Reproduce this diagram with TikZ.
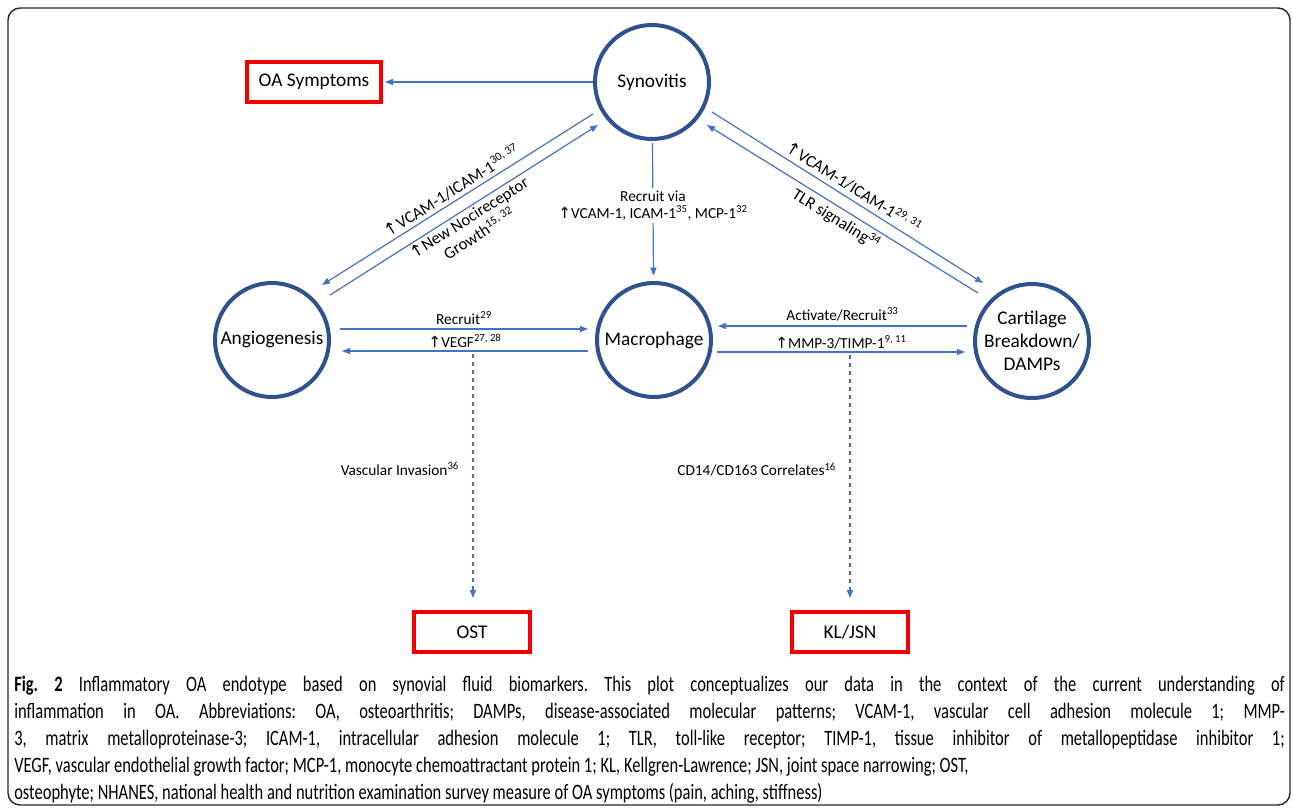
\documentclass[tikz,border=0pt]{standalone}
\usepackage{fontspec}
\setmainfont{Carlito}
\newfontfamily\capfont[FakeStretch=0.75]{Carlito}
\newfontfamily\symfont{DejaVu Sans}
\usetikzlibrary{arrows.meta}
\definecolor{circblue}{RGB}{47,82,143}
\definecolor{linkblue}{RGB}{68,114,196}
\definecolor{boxred}{RGB}{245,0,0}
\definecolor{framegray}{RGB}{40,40,40}
\newcommand{\incr}{{\symfont ↑}}
\newcommand{\rf}[1]{\textsuperscript{#1}}
\frenchspacing
\begin{document}
\begin{tikzpicture}[x=0.75pt, y=-0.75pt,
    arr/.tip={Triangle[length=6pt, width=4.5pt]},
    stage/.style={circle, draw=circblue, line width=3pt, minimum size=85.5pt, inner sep=0pt, align=center, font=\fontsize{14.5}{17}\selectfont},
    outcome/.style={draw=boxred, line width=3pt, minimum height=30pt, font=\fontsize{14.5}{17}\selectfont},
    link/.style={draw=linkblue, line width=0.9pt},
    dashlink/.style={link, dash pattern=on 3pt off 3pt},
    lbl/.style={font=\fontsize{11.5}{13}\selectfont, inner sep=2pt},
    dlbl/.style={font=\fontsize{12.5}{14.5}\selectfont, inner sep=1.5pt, sloped}]
    \useasboundingbox (0,0) rectangle (1293,808);
    \draw[framegray, line width=1.1pt, rounded corners=9pt] (8,8) rectangle (1290,805);

    % stages
    \node[stage] (syn) at (652,82) {Synovitis};
    \node[stage] (angio) at (272,340) {Angiogenesis};
    \node[stage] (macro) at (654,340) {Macrophage};
    \node[stage] (cart) at (1032,341) {Cartilage\\Breakdown/\\DAMPs};

    % outcomes
    \node[outcome, minimum width=100.5pt] (oasym) at (314,82) {OA Symptoms};
    \node[outcome, minimum width=87pt] (ost) at (472,632) {OST};
    \node[outcome, minimum width=87pt] (kljsn) at (850,632) {KL/JSN};

    \draw[link, -arr, shorten >=1.5pt] (syn) -- (oasym);
    \draw[link, -arr, shorten <=1.5pt, shorten >=4pt] (syn) -- node[lbl, fill=white, align=center, pos=0.46] {Recruit via\\\incr VCAM-1, ICAM-1\rf{35}, MCP-1\rf{32}} (macro);

    \draw[link, arr-] ([shift={(50,-55)}]angio.center) -- node[dlbl, above=1pt] {\incr VCAM-1/ICAM-1\rf{30, 37}} ([shift={(-59,32)}]syn.center);
    \draw[link, -arr] ([shift={(58,-45)}]angio.center) -- node[dlbl, below, align=center] {\incr New Nocireceptor\\Growth\rf{15, 32}} ([shift={(-54,43)}]syn.center);
    \draw[link, -arr] ([shift={(60,30)}]syn.center) -- node[dlbl, above=2pt] {\incr VCAM-1/ICAM-1\rf{29, 31}} ([shift={(-49,-58)}]cart.center);
    \draw[link, arr-] ([shift={(55,43)}]syn.center) -- node[dlbl, below=1pt] {TLR signaling\rf{34}} ([shift={(-54,-48)}]cart.center);

    \draw[link, -arr] ([shift={(68,-11)}]angio.center) -- node[lbl, above=1pt] {Recruit\rf{29}} ([shift={(-66,-11)}]macro.center);
    \draw[link, -arr] ([shift={(-66,11)}]macro.center) -- node[lbl, above] {\incr VEGF\rf{27, 28}} ([shift={(70,11)}]angio.center);
    \draw[link, -arr] ([shift={(-65,-15)}]cart.center) -- node[lbl, above=1pt] {Activate/Recruit\rf{33}} ([shift={(64,-14)}]macro.center);
    \draw[link, -arr] ([shift={(63,12)}]macro.center) -- node[lbl, above] {\incr MMP-3/TIMP-1\rf{9, 11}} ([shift={(-67,11)}]cart.center);

    % dashed links to the outcomes
    \coordinate (vj) at (473,354);
    \coordinate (mj) at (850,355);
    \draw[dashlink, -arr, shorten >=9pt] (vj) -- node[lbl, left=8pt, pos=0.45] {Vascular Invasion\rf{36}} (ost.north -| vj);
    \draw[dashlink, -arr, shorten >=9pt] (mj) -- node[lbl, left=8pt, pos=0.45] {CD14/CD163 Correlates\rf{16}} (kljsn.north -| mj);

    \node[anchor=north west, inner sep=0pt, align=left, font=\capfont\fontsize{16.5}{20.25}\selectfont] (caption) at (14,676) {%
      \makebox[953pt][s]{\textbf{Fig. 2} Inflammatory OA endotype based on synovial fluid biomarkers. This plot conceptualizes our data in the context of the current understanding of}\\
      \makebox[953pt][s]{inflammation in OA. Abbreviations: OA, osteoarthritis; DAMPs, disease-associated molecular patterns; VCAM-1, vascular cell adhesion molecule 1; MMP-}\\
      \makebox[953pt][s]{3, matrix metalloproteinase-3; ICAM-1, intracellular adhesion molecule 1; TLR, toll-like receptor; TIMP-1, tissue inhibitor of metallopeptidase inhibitor 1;}\\
      VEGF, vascular endothelial growth factor; MCP-1, monocyte chemoattractant protein 1; KL, Kellgren-Lawrence; JSN, joint space narrowing; OST,\\
      osteophyte; NHANES, national health and nutrition examination survey measure of OA symptoms (pain, aching, stiffness)};
\end{tikzpicture}
\end{document}
